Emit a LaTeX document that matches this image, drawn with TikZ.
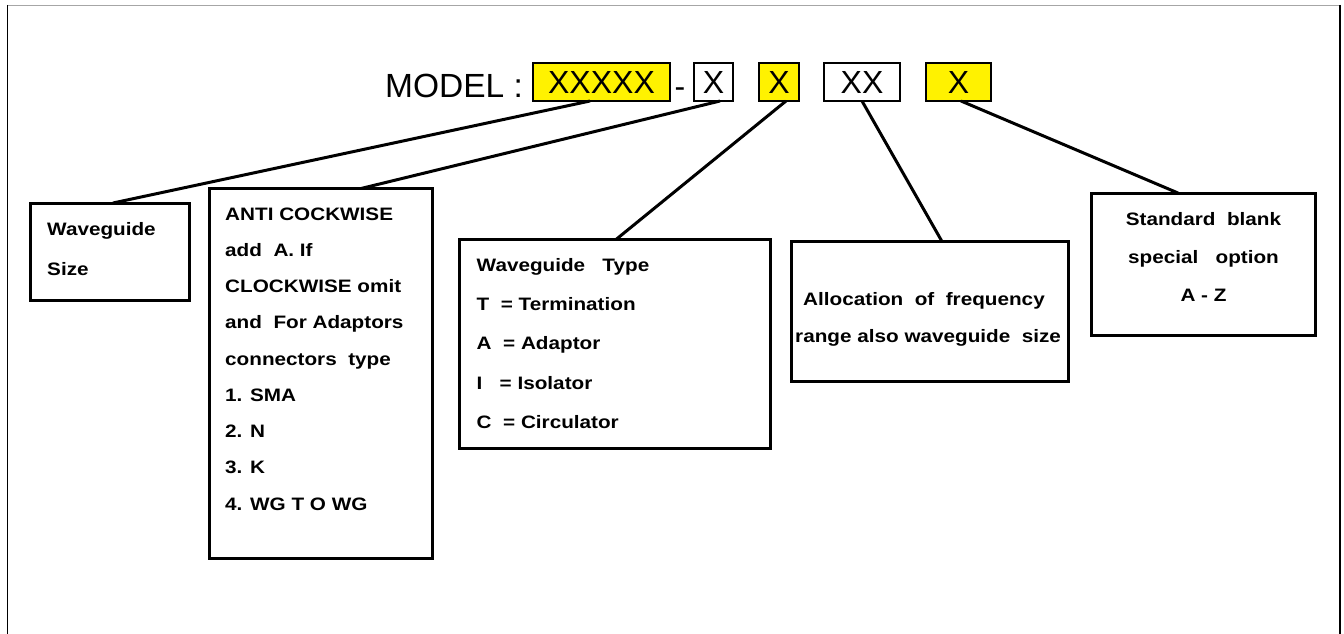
\documentclass[tikz,border=0pt]{standalone}
\usepackage{fontspec}
\setmainfont{Liberation Sans}
\newcommand{\lowx}[1]{\raisebox{-2.5pt}{#1}}
\begin{document}
\begin{tikzpicture}[x=1pt,y=-1pt,
  box/.style={draw, line width=3pt, inner sep=0pt, outer sep=0pt},
  mbox/.style={draw, line width=2pt, inner sep=0pt, outer sep=0pt, minimum height=38pt,
    font=\fontsize{32}{36}\selectfont},
  ybox/.style={mbox, fill=yellow},
  conn/.style={line width=3pt},
  lbl/.style={font=\fontsize{18}{22}\selectfont\bfseries, xscale=1.15, inner sep=0pt, anchor=base west},
  clbl/.style={lbl, anchor=base},
]
\useasboundingbox (0,0) rectangle (1344,634);

% outer frame
\draw[gray!70, line width=1.5pt] (7,5.5) -- (1341,5.5);
\draw[line width=1pt] (7,5) -- (7,634);
\draw[line width=2.5pt] (1340,5) -- (1340,634);

% model line
\node[inner sep=0pt, anchor=base west, font=\fontsize{33.5}{36}\selectfont] (model) at (385,97) {MODEL :};
\node[ybox, minimum width=137pt] (m1) at (601.5,82) {\lowx{XXXXX}};
\node[inner sep=0pt, anchor=base, font=\fontsize{32}{36}\selectfont] (dash) at (680,97) {-};
\node[mbox, minimum width=39pt] (m2) at (713.5,82) {\lowx{X}};
\node[ybox, minimum width=40pt] (m3) at (779,82) {\lowx{X}};
\node[mbox, minimum width=76pt] (m4) at (862,82) {\lowx{XX}};
\node[ybox, minimum width=65pt] (m5) at (958.5,82) {\lowx{X}};

% boxes
\node[box, minimum width=159pt, minimum height=97pt] (ws) at (109.5,251.5) {};
\node[box, minimum width=223pt, minimum height=370pt] (anti) at (321,373.5) {};
\node[box, minimum width=311pt, minimum height=209pt] (wt) at (615,344) {};
\node[box, minimum width=277pt, minimum height=140pt] (al) at (930,311.5) {};
\node[box, minimum width=224pt, minimum height=142.5pt] (sd) at (1203.5,264.25) {};

% connectors
\draw[conn] ([xshift=-11.5pt]m1.south) -- ([xshift=3.5pt]ws.north);
\draw[conn] ([xshift=6.5pt]m2.south) -- ([xshift=40pt]anti.north);
\draw[conn] ([xshift=7pt]m3.south) -- ([xshift=1pt]wt.north);
\draw[conn] (m4.south) -- ([xshift=12pt]al.north);
\draw[conn] ([xshift=2.5pt]m5.south) -- ([xshift=-25.5pt]sd.north);

% texts
\node[lbl] (ws1) at (47,235.5) {Waveguide};
\node[lbl] (ws2) at (47,275.5) {Size};

\foreach \t [count=\i] in {ANTI COCKWISE, add\ \ A. If, CLOCKWISE omit, and\ \ For Adaptors,
  connectors\ \ type, 1. SMA, 2. N, 3. K, 4. WG T O WG}
  \node[lbl] (anti\i) at (225,{220+36.25*(\i-1)}) {\t};

\foreach \t [count=\i] in {Waveguide\ \ \ Type, T\ \ = Termination, A\ \ = Adaptor,
  I\ \ \ = Isolator, C\ \ = Circulator}
  \node[lbl] (wt\i) at (476.5,{271.7+39.1*(\i-1)}) {\t};

\node[lbl] (al1) at (803,305) {Allocation\ \ of\ \ frequency};
\node[lbl] (al2) at (795,342) {range also waveguide\ \ size};

\node[clbl] (sd1) at (1203.5,225) {Standard\ \ blank};
\node[clbl] (sd2) at (1203.5,263.3) {special\ \ \ option};
\node[clbl] (sd3) at (1203.5,301.7) {A - Z};
\end{tikzpicture}
\end{document}
